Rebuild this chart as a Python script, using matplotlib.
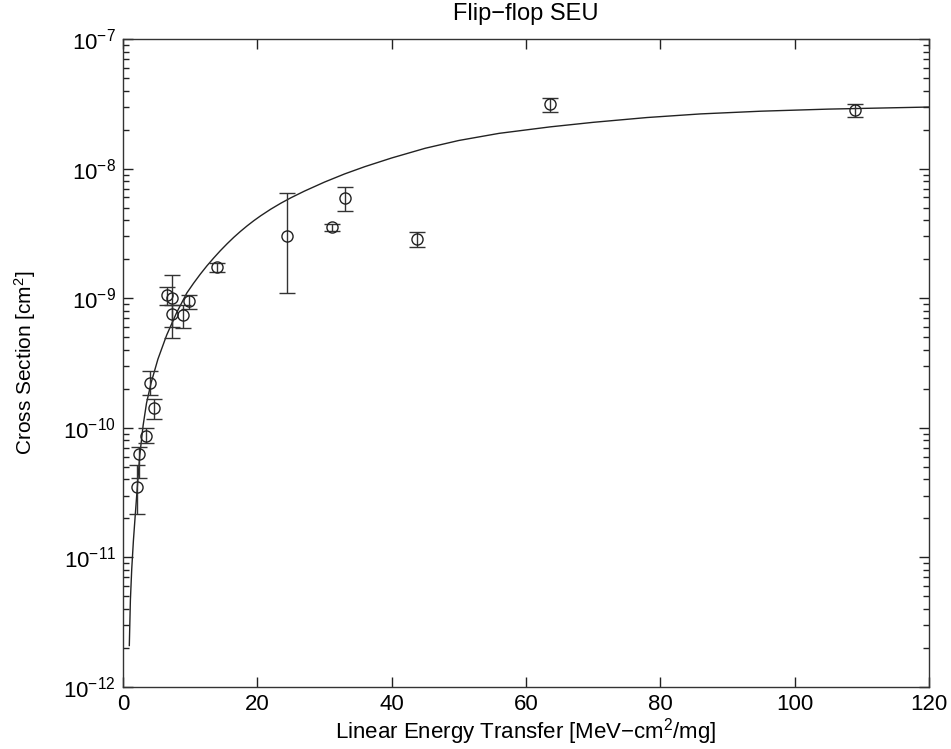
import matplotlib
matplotlib.use("Agg")
import matplotlib.pyplot as plt
import numpy as np
from matplotlib.ticker import LogLocator, NullFormatter

plt.rcParams['font.family'] = ['Liberation Sans', 'DejaVu Sans']
plt.rcParams['mathtext.fontset'] = 'custom'
plt.rcParams['mathtext.rm'] = 'Liberation Sans'
plt.rcParams['mathtext.it'] = 'Liberation Sans:italic'

# Measured data points (LET, cross section) with error bar limits
let = [2.04, 2.38, 3.38, 4.0, 4.67, 6.5, 7.25, 7.25, 8.96, 9.87, 13.95, 24.37, 31.07, 33.05, 43.7, 63.57, 108.98]
sigma = [3.51e-11, 6.25e-11, 8.65e-11, 2.23e-10, 1.41e-10, 1.06e-9, 1.0e-9, 7.6e-10, 7.4e-10, 9.55e-10,
         1.75e-9, 3.02e-9, 3.52e-9, 5.9e-9, 2.86e-9, 3.13e-8, 2.83e-8]
err_hi = [5.16e-11, 7.1e-11, 9.9e-11, 2.74e-10, 1.66e-10, 1.23e-9, 1.51e-9, 8.9e-10, 8.9e-10, 1.06e-9,
          1.88e-9, 6.5e-9, 3.74e-9, 7.18e-9, 3.26e-9, 3.48e-8, 3.15e-8]
err_lo = [2.16e-11, 4.1e-11, 7.7e-11, 1.79e-10, 1.16e-10, 8.9e-10, 4.9e-10, 6.0e-10, 5.86e-10, 8.2e-10,
          1.58e-9, 1.1e-9, 3.3e-9, 4.73e-9, 2.47e-9, 2.75e-8, 2.49e-8]

# Fitted curve (LET, log10 cross section)
fit_let = [0.94, 1.1, 1.3, 1.55, 1.8, 2.1, 2.5, 3.0, 3.5, 4.2, 5.2, 6.5, 8.0, 9.5, 10.5, 11.5, 12.5,
           13.5, 14.5, 15.5, 16.5, 17.5, 18.5, 19.5, 20.5, 22.0, 23.5, 25.0, 27.0, 30.0, 33.0, 36.0,
           40.0, 45.0, 50.0, 56.0, 63.6, 70.0, 78.0, 86.0, 95.0, 105.0, 120.0]
fit_log = [-11.68, -11.33, -11.09, -10.87, -10.69, -10.48, -10.21, -9.98, -9.81, -9.65, -9.47, -9.285,
           -9.11, -8.96, -8.885, -8.815, -8.75, -8.69, -8.633, -8.58, -8.53, -8.484, -8.441, -8.401,
           -8.364, -8.313, -8.267, -8.225, -8.174, -8.104, -8.041, -7.985, -7.918, -7.843, -7.783,
           -7.728, -7.678, -7.643, -7.606, -7.578, -7.557, -7.541, -7.525]

xticks = [0, 20, 40, 60, 80, 100, 120]

fig = plt.figure(figsize=(9.51, 7.49), dpi=100)
ax = fig.add_axes([123/951, 1-687/749, (929-123)/951, (687-39)/749])

fit_sigma = [10**v for v in fit_log]
ax.plot(fit_let, fit_sigma, color='#222222', lw=1.0)

s = np.array(sigma)
yerr = np.vstack([s - np.array(err_lo), np.array(err_hi) - s])
ax.errorbar(let, sigma, yerr=yerr, fmt='o', mfc='none', mec='#222222', mew=1.0, ms=8,
            ecolor='#333333', elinewidth=1.0, capsize=6, capthick=1.0)

ax.set_yscale('log')
ax.set_xlim(0, 120)
ax.set_ylim(1e-12, 1e-7)
ax.set_xticks(xticks)
ax.set_xticklabels([str(t) for t in xticks])
ax.yaxis.set_major_locator(LogLocator(base=10, numticks=10))
ax.yaxis.set_minor_locator(LogLocator(base=10, subs=np.arange(2, 10), numticks=20))
ax.yaxis.set_minor_formatter(NullFormatter())
ax.tick_params(which='both', direction='in', top=True, right=True, labelsize=16, width=1.0, color='#222222')
ax.tick_params(which='major', length=7, pad=5)
ax.tick_params(which='minor', length=4)
for sp in ax.spines.values():
    sp.set_linewidth(1.0)
    sp.set_color('#333333')

ax.set_title('Flip\u2212flop SEU', fontsize=17, pad=14)
ax.set_xlabel('Linear Energy Transfer [MeV\u2212cm$^2$/mg]', fontsize=16, labelpad=1)
ax.set_ylabel('Cross Section [cm$^2$]', fontsize=15, labelpad=18)

fig.savefig('out.png', dpi=100)
